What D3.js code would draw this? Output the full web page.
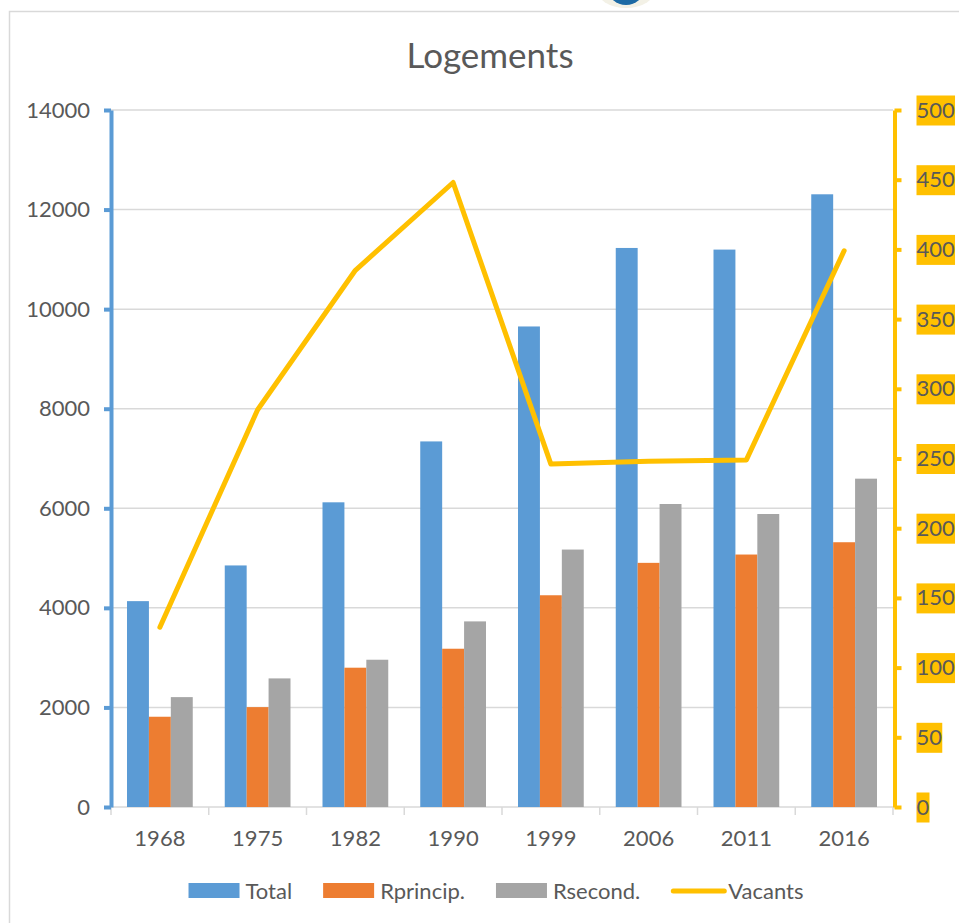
<!DOCTYPE html>
<html>
<head>
<meta charset="utf-8">
<script src="https://cdn.jsdelivr.net/npm/d3@7"></script>
<style>
  html, body { margin: 0; padding: 0; background: #fff; }
  svg { display: block; font-family: Lato, "Open Sans", sans-serif; }
  .tick text { fill: #595959; }
</style>
</head>
<body>
<div id="chart"></div>
<script>
const years = ["1968", "1975", "1982", "1990", "1999", "2006", "2011", "2016"];
const total = [4135, 4852, 6120, 7343, 9652, 11229, 11196, 12307];
const rprincip = [1813, 2006, 2798, 3179, 4253, 4904, 5071, 5318];
const rsecond = [2207, 2583, 2958, 3728, 5171, 6086, 5885, 6595];
const vacants = [129, 285, 385, 448, 246, 248, 249, 399];

const barSeries = ["Total", "Rprincip.", "Rsecond."];
const barColors = ["#5B9BD5", "#ED7D31", "#A5A5A5"];
const lineName = "Vacants";
const lineColor = "#FFC000";

const leftTicks = d3.range(0, 14001, 2000);
const rightTicks = d3.range(0, 501, 50);

const width = 959, height = 923;
const plot = { left: 111, right: 893, top: 110, bottom: 807 };
const fontSize = 22;
const textColor = "#595959";
const gridColor = "#D9D9D9";

const rows = years.map((y, i) => ({
  year: y,
  values: [total[i], rprincip[i], rsecond[i]],
  vacants: vacants[i],
}));

const svg = d3.select("#chart").append("svg")
  .attr("width", width)
  .attr("height", height)
  .attr("viewBox", [0, 0, width, height]);

// partially visible logo at the very top
svg.append("ellipse")
  .attr("cx", 626).attr("cy", -12).attr("rx", 30).attr("ry", 20)
  .attr("fill", "#f3f1e6");
svg.append("ellipse")
  .attr("cx", 626).attr("cy", -11).attr("rx", 18).attr("ry", 16)
  .attr("fill", "#1d6aa5");

// chart frame
svg.append("path")
  .attr("d", `M9.5,${height} V11.5 H${width}`)
  .attr("fill", "none")
  .attr("stroke", gridColor)
  .attr("stroke-width", 1.5);

const x = d3.scaleBand().domain(years).range([plot.left, plot.right]);
const xInner = d3.scaleBand().domain(barSeries).range([16, x.bandwidth() - 16]);
const yLeft = d3.scaleLinear().domain([0, 14000]).range([plot.bottom, plot.top]);
const yRight = d3.scaleLinear().domain([0, 500]).range([plot.bottom, plot.top]);

// title
svg.append("text")
  .attr("x", 490)
  .attr("y", 68)
  .attr("text-anchor", "middle")
  .attr("font-size", 35)
  .attr("fill", textColor)
  .text("Logements");

// gridlines
svg.append("g")
  .selectAll("line")
  .data(leftTicks.filter((d) => d > 0))
  .join("line")
  .attr("x1", plot.left)
  .attr("x2", plot.right)
  .attr("y1", (d) => yLeft(d))
  .attr("y2", (d) => yLeft(d))
  .attr("stroke", gridColor)
  .attr("stroke-width", 1.5);

// bottom axis: baseline, boundary ticks, labels
const xAxisG = svg.append("g");
xAxisG.append("line")
  .attr("x1", plot.left).attr("x2", plot.right)
  .attr("y1", plot.bottom).attr("y2", plot.bottom)
  .attr("stroke", gridColor).attr("stroke-width", 1.5);
xAxisG.selectAll(".bound")
  .data(years.map((d) => x(d)).concat([x(years[years.length - 1]) + x.bandwidth()]))
  .join("line")
  .attr("class", "bound")
  .attr("x1", (d) => d).attr("x2", (d) => d)
  .attr("y1", plot.bottom).attr("y2", plot.bottom + 8)
  .attr("stroke", gridColor).attr("stroke-width", 1.5);

svg.append("g")
  .attr("transform", `translate(0,${plot.bottom})`)
  .call(d3.axisBottom(x).tickSize(0).tickPadding(23))
  .attr("font-family", null)
  .attr("font-size", fontSize)
  .call((g) => g.select(".domain").remove());

// bars
svg.append("g")
  .selectAll("g")
  .data(rows)
  .join("g")
  .attr("transform", (d) => `translate(${x(d.year)},0)`)
  .selectAll("rect")
  .data((d) => d.values.map((v, j) => ({ key: barSeries[j], value: v, color: barColors[j] })))
  .join("rect")
  .attr("x", (d) => xInner(d.key))
  .attr("width", xInner.bandwidth())
  .attr("y", (d) => yLeft(d.value))
  .attr("height", (d) => yLeft(0) - yLeft(d.value))
  .attr("fill", (d) => d.color);

// left axis
svg.append("g")
  .attr("transform", `translate(${plot.left},0)`)
  .call(d3.axisLeft(yLeft).tickValues(leftTicks).tickFormat(d3.format("d"))
    .tickSizeInner(7).tickSizeOuter(0).tickPadding(14))
  .attr("font-family", null)
  .attr("font-size", fontSize)
  .call((g) => g.selectAll(".domain, .tick line")
    .attr("stroke", barColors[0]).attr("stroke-width", 4));

// right axis with highlighted labels
const rightAxis = svg.append("g")
  .attr("transform", `translate(${plot.right + 1.5},0)`)
  .call(d3.axisRight(yRight).tickValues(rightTicks).tickFormat(d3.format("d"))
    .tickSizeInner(7).tickSizeOuter(0).tickPadding(15))
  .attr("font-family", null)
  .attr("font-size", fontSize)
  .call((g) => g.selectAll(".domain, .tick line")
    .attr("stroke", lineColor).attr("stroke-width", 4));

rightAxis.selectAll(".tick").each(function () {
  const t = d3.select(this).select("text");
  const b = t.node().getBBox();
  d3.select(this).insert("rect", "text")
    .attr("x", b.x)
    .attr("y", -15)
    .attr("width", b.width)
    .attr("height", 30)
    .attr("fill", lineColor);
});

// vacants line
svg.append("path")
  .datum(rows)
  .attr("fill", "none")
  .attr("stroke", lineColor)
  .attr("stroke-width", 5)
  .attr("stroke-linejoin", "round")
  .attr("stroke-linecap", "round")
  .attr("d", d3.line()
    .x((d) => x(d.year) + x.bandwidth() / 2)
    .y((d) => yRight(d.vacants)));

// legend
const legendItems = barSeries.map((name, i) => ({ name, color: barColors[i], type: "rect" }))
  .concat([{ name: lineName, color: lineColor, type: "line" }]);
const legend = svg.append("g").attr("font-size", fontSize).attr("fill", textColor);
const ly = 891;
const items = legend.selectAll("g")
  .data(legendItems)
  .join("g");
items.each(function (d) {
  const g = d3.select(this);
  if (d.type === "rect") {
    g.append("rect").attr("x", 0).attr("y", ly - 8).attr("width", 51).attr("height", 15).attr("fill", d.color);
  } else {
    g.append("line").attr("x1", 2).attr("x2", 53).attr("y1", ly).attr("y2", ly)
      .attr("stroke", d.color).attr("stroke-width", 5).attr("stroke-linecap", "round");
  }
  g.append("text").attr("x", 57).attr("y", ly).attr("dy", "0.35em").text(d.name);
});
let cursor = 0;
const offsets = [];
items.each(function () {
  offsets.push(cursor);
  cursor += this.getBBox().width + 31;
});
const legendWidth = cursor - 31;
const legendStart = 495 - legendWidth / 2;
items.attr("transform", (d, i) => `translate(${legendStart + offsets[i]},0)`);
</script>
</body>
</html>
